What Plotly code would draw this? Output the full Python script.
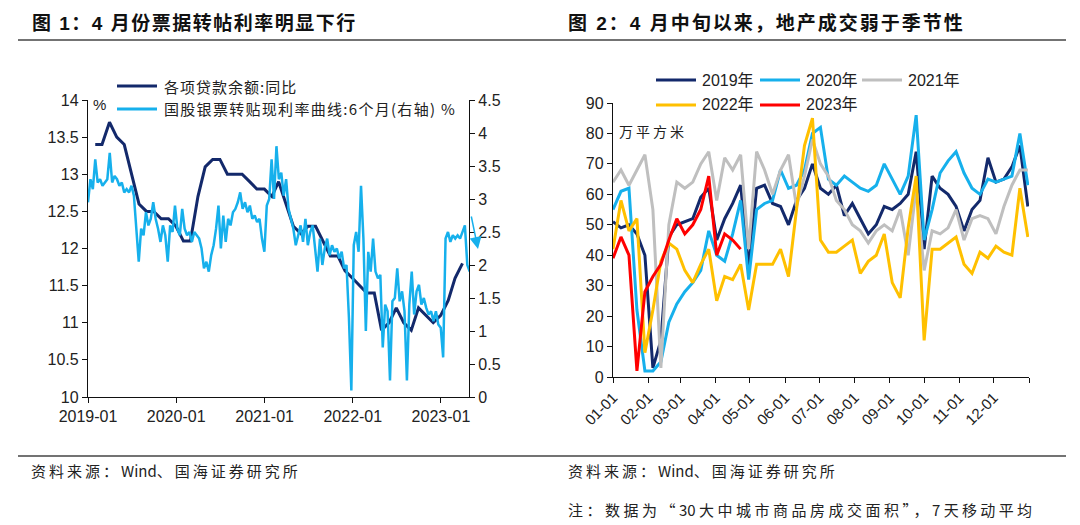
import plotly.graph_objects as go
import pandas as pd

W, H = 1080, 525

# 图1：各项贷款余额同比（月度，左轴）
loan_growth = [13.4, 13.4, 13.7, 13.5, 13.4, 13.0, 12.6, 12.5, 12.5, 12.4, 12.4, 12.3,
               12.1, 12.1, 12.7, 13.1, 13.2, 13.2, 13.0, 13.0, 13.0, 12.9, 12.8, 12.8,
               12.7, 12.9, 12.6, 12.3, 12.2, 12.3, 12.3, 12.1, 11.9, 11.9, 11.7, 11.6,
               11.5, 11.4, 11.4, 10.9, 11.0, 11.2, 11.0, 10.9, 11.2, 11.1, 11.0, 11.1,
               11.3, 11.6, 11.8]

# 图1：国股银票转贴现利率 6个月（每10天取一点，右轴）
bill_rate = [2.95, 3.3, 3.15, 3.6, 3.25, 3.3, 3.2, 3.25, 3.3, 3.7,
             3.25, 3.35, 3.3, 3.2, 3.25, 3.1, 3.15, 3.1, 3.2, 3.05,
             2.6, 2.05, 2.55, 2.45, 2.8, 2.6, 2.7, 2.95, 2.7, 2.55,
             2.35, 2.6, 2.45, 2.05, 2.6, 2.5, 2.9, 2.55, 2.45, 2.85,
             2.55, 2.45, 2.5, 2.35, 2.5, 2.45, 2.4, 2.25, 1.95, 2.05,
             1.9, 2.15, 2.3, 2.55, 2.9, 2.25, 2.75, 2.35, 2.7, 2.6,
             2.8, 2.85, 2.95, 3.1, 2.85, 2.95, 2.8, 2.9, 2.7, 2.75,
             2.65, 2.7, 2.4, 2.2, 2.9, 3.0, 3.6, 3.0, 3.8, 3.3,
             3.4, 3.05, 3.3, 2.85, 2.7, 2.55, 2.3, 2.45, 2.6, 2.35,
             2.7, 2.3, 2.5, 2.6, 2.2, 1.9, 2.4, 2.0, 2.25, 2.4,
             2.15, 2.3, 2.2, 2.25, 2.1, 2.2, 1.95, 2.0, 1.2, 0.1,
             2.3, 2.5, 2.2, 3.2, 2.4, 1.0, 2.2, 1.9, 2.4, 1.9,
             1.8, 1.85, 0.75, 1.4, 1.3, 0.25, 1.45, 1.5, 1.95, 1.45,
             1.6, 1.3, 0.25, 1.4, 1.9, 1.25, 1.6, 1.7, 1.4, 1.5,
             1.35, 1.25, 1.3, 1.15, 1.3, 1.1, 1.05, 0.6, 2.4, 2.5,
             2.35, 2.45, 2.4, 2.45, 2.4, 2.5, 2.6, 2.0, 1.9]

loan_dates = pd.date_range('2019-02-01', periods=len(loan_growth), freq='MS') - pd.Timedelta(days=1)
bill_dates = pd.date_range('2019-01-01', periods=len(bill_rate), freq='10D')

year_ticks = ['2019-01-01', '2020-01-01', '2021-01-01', '2022-01-01', '2023-01-01']
year_labels = ['2019-01', '2020-01', '2021-01', '2022-01', '2023-01']

# 图2：30大中城市商品房成交面积，7天移动平均（每周取一点）
area_2019 = [51, 49, 50, 47, 40, 3, 12, 46, 50, 51,
             52, 59, 62, 45, 52, 57, 63, 36, 62, 63,
             57, 56, 50, 58, 62, 70, 62, 60, 63, 53,
             57, 52, 47, 50, 56, 55, 57, 60, 74, 42,
             66, 62, 60, 56, 48, 55, 58, 72, 64, 65,
             69, 76, 56]
area_2020 = [55, 61, 62, 22, 2, 2, 5, 18, 24, 28,
             31, 35, 48, 40, 38, 47, 58, 32, 55, 57,
             58, 68, 62, 63, 68, 80, 82, 65, 63, 66,
             64, 62, 61, 63, 70, 65, 60, 66, 86, 45,
             55, 67, 71, 74, 67, 62, 60, 65, 64, 65,
             66, 80, 63]
area_2021 = [64, 68, 63, 68, 73, 55, 3, 50, 64, 62,
             64, 70, 74, 58, 72, 68, 73, 42, 74, 68,
             60, 68, 73, 56, 66, 78, 70, 66, 58, 55,
             50, 48, 44, 48, 50, 48, 55, 40, 62, 35,
             48, 47, 49, 55, 45, 52, 53, 52, 47, 56,
             63, 68, 68]
area_2022 = [42, 58, 48, 52, 8, 22, 38, 44, 42, 35,
             31, 37, 42, 25, 33, 32, 37, 22, 37, 37,
             37, 42, 33, 55, 76, 85, 45, 41, 41, 43,
             45, 34, 38, 40, 47, 31, 26, 49, 66, 12,
             42, 42, 44, 46, 37, 34, 41, 39, 43, 41,
             40, 62, 46]
area_2023 = [39, 46, 40, 2, 28, 33, 37, 45, 52, 47,
             50, 55, 66, 40, 47, 45, 42]

year_names = ['2019年', '2020年', '2021年', '2022年', '2023年']
month_starts = [0, 31, 59, 90, 120, 151, 181, 212, 243, 273, 304, 334, 365]
month_labels = ['01-01', '02-01', '03-01', '04-01', '05-01', '06-01', '07-01',
                '08-01', '09-01', '10-01', '11-01', '12-01', '']

NAVY = '#13296B'
LIGHT = '#16B0EC'
GREY = '#BFBFBF'
GOLD = '#FFC000'
RED = '#FF0000'
year_colors = [NAVY, LIGHT, GREY, GOLD, RED]

CJK = 'Noto Sans CJK SC'
NUM = 'Liberation Sans, Arial, Noto Sans CJK SC'


def px(x):
    return x / W


def py(y):
    return 1 - y / H


def spaced(text, gap):
    return '<span style="letter-spacing:%spx">%s</span>' % (gap, text)


fig = go.Figure()

# 图1
fig.add_trace(go.Scatter(x=loan_dates, y=loan_growth, mode='lines',
                         line=dict(color=NAVY, width=3), xaxis='x', yaxis='y',
                         showlegend=False))
fig.add_trace(go.Scatter(x=bill_dates, y=bill_rate, mode='lines',
                         line=dict(color=LIGHT, width=2.5), xaxis='x', yaxis='y2',
                         showlegend=False))

# 图2
for vals, color in zip([area_2019, area_2020, area_2021, area_2022, area_2023], year_colors):
    days = [7 * k for k in range(len(vals))]
    fig.add_trace(go.Scatter(x=days, y=vals, mode='lines',
                             line=dict(color=color, width=3), xaxis='x2', yaxis='y3',
                             showlegend=False))

axis_style = dict(showgrid=False, zeroline=False, showline=True, linecolor='#111',
                  linewidth=1.3, ticks='outside', ticklen=5, tickcolor='#111', tickwidth=1.3,
                  automargin=False,
                  tickfont=dict(family=NUM, size=16, color='#222'))

left_ticks = [10 + 0.5 * i for i in range(9)]
right_ticks = [0.5 * i for i in range(10)]


def fmt(v):
    return ('%g' % v)


fig.update_layout(
    width=W, height=H,
    margin=dict(l=0, r=0, t=0, b=0, autoexpand=False),
    paper_bgcolor='white', plot_bgcolor='rgba(0,0,0,0)',
    xaxis=dict(axis_style, domain=[px(88), px(469)], anchor='y', type='date',
               range=['2019-01-01', '2023-04-27'], tickvals=year_ticks, ticktext=year_labels),
    yaxis=dict(axis_style, domain=[py(397), py(100)], anchor='x', range=[10, 14],
               tickvals=left_ticks, ticktext=[fmt(v) for v in left_ticks]),
    yaxis2=dict(axis_style, overlaying='y', side='right', anchor='x', range=[0, 4.5],
                tickvals=right_ticks, ticktext=[fmt(v) for v in right_ticks]),
    xaxis2=dict(axis_style, domain=[px(613), px(1029)], anchor='y3', range=[0, 365],
                tickvals=month_starts, ticktext=month_labels, tickangle=-45,
                tickfont=dict(family=NUM, size=15, color='#222')),
    yaxis3=dict(axis_style, domain=[py(377), py(103)], anchor='x2', range=[0, 90],
                dtick=10),
)

shapes = [
    dict(type='line', xref='paper', yref='paper', x0=px(18), x1=px(1066), y0=py(40), y1=py(40),
         line=dict(color='#444', width=1.3)),
    dict(type='line', xref='paper', yref='paper', x0=px(18), x1=px(1066), y0=py(456), y1=py(456),
         line=dict(color='#444', width=1.3)),
]
annotations = []


def label(x, y, text, size, family=CJK, color='#222', anchor='left'):
    annotations.append(dict(x=px(x), y=py(y), xref='paper', yref='paper', text=text,
                            showarrow=False, xanchor=anchor, yanchor='middle',
                            font=dict(family=family, size=size, color=color)))


def swatch(x0, x1, y, color):
    shapes.append(dict(type='line', xref='paper', yref='paper', x0=px(x0), x1=px(x1),
                       y0=py(y), y1=py(y), line=dict(color=color, width=3)))


# 标题
label(30, 23, '<b>' + spaced('图 1：4 月份票据转帖利率明显下行', 1.5) + '</b>', 19, family=NUM, color='#111')
label(566, 23, '<b>' + spaced('图 2：4 月中旬以来，地产成交弱于季节性', 2) + '</b>', 19, family=NUM, color='#111')

# 图1 图例
swatch(117, 157, 86, NAVY)
label(162, 86, spaced('各项贷款余额:同比', 1), 15)
swatch(117, 157, 109, LIGHT)
label(162, 109, spaced('国股银票转贴现利率曲线:6个月(右轴) %', 1.3), 15)
label(91, 104, '%', 15, family=NUM)

annotations.append(dict(x=px(478), y=py(249), xref='paper', yref='paper', text='',
                        showarrow=True, ax=-7, ay=-34, arrowhead=2, arrowsize=1.6,
                        arrowwidth=1.5, arrowcolor=LIGHT))

# 图2 图例
legend_pos = [(656, 80), (760, 80), (862, 80), (656, 105), (760, 105)]
for (lx, ly), name, color in zip(legend_pos, year_names, year_colors):
    swatch(lx, lx + 40, ly, color)
    label(lx + 44, ly, name, 16, family=NUM)
label(617, 131, spaced('万平方米', 3), 14)

# 资料来源
source = spaced('资料来源：', 3) + 'Wind' + spaced('、国海证券研究所', 3)
label(29, 470, source, 15)
label(566, 470, source, 15)
label(566, 509, spaced('注：数据为“', 3.5) + '30\u00a0' + spaced('大中城市商品房成交面积”，', 3.5)
      + '7\u00a0' + spaced('天移动平均', 3.3), 15)

fig.update_layout(shapes=shapes, annotations=annotations)

# 页面默认 body 边距 8px，去掉它让图与窗口对齐
fig.write_html("out.html", config={'displayModeBar': False},
               post_script="document.body.style.margin='0';")
